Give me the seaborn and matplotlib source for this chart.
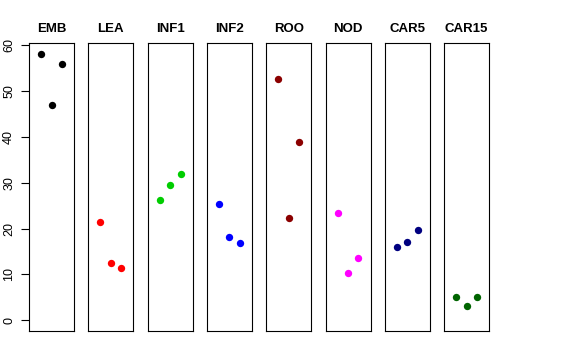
import numpy as np
import pandas as pd
import matplotlib
matplotlib.use("Agg")
import matplotlib.pyplot as plt
import seaborn as sns

# tissues and their values (3 replicates each)
tissues = ["EMB", "LEA", "INF1", "INF2", "ROO", "NOD", "CAR5", "CAR15"]
colors = ["#000000", "#FF0000", "#00CD00", "#0000FF", "#8B0000", "#FF00FF", "#000080", "#006400"]
replicate = [1, 2, 3]
values = [
    [58.1, 46.9, 56.0],
    [21.5, 12.6, 11.5],
    [26.2, 29.5, 32.0],
    [25.4, 18.1, 16.8],
    [52.7, 22.3, 39.0],
    [23.4, 10.4, 13.5],
    [16.0, 17.1, 19.7],
    [5.1, 3.1, 5.1],
]

rows = []
for t, vals in zip(tissues, values):
    for r, v in zip(replicate, vals):
        rows.append({"tissue": t, "rep": r, "value": v})
df = pd.DataFrame(rows)

sns.set_style("white")
plt.rcParams["font.family"] = ["Liberation Sans", "DejaVu Sans"]
plt.rcParams["text.color"] = "black"
plt.rcParams["ytick.color"] = "black"
plt.rcParams["axes.labelcolor"] = "black"

fig = plt.figure(figsize=(5.76, 3.6), dpi=100)

# R-like axis ranges: data range padded by 4%
ymax = df["value"].max()
ypad = 0.04 * ymax
xpad = 0.04 * 4

W, H = 576, 360
left0, step, pw = 29, 59.3, 45
top, bottom = 43.3, 331

for i, (t, c) in enumerate(zip(tissues, colors)):
    x0 = left0 + i * step
    ax = fig.add_axes([x0 / W, (H - bottom) / H, pw / W, (bottom - top) / H])
    sub = df[df["tissue"] == t]
    sns.scatterplot(data=sub, x="rep", y="value", color=c, s=28, linewidth=0, ax=ax)
    ax.set_xlim(0 - xpad, 4 + xpad)
    ax.set_ylim(0 - ypad, ymax + ypad)
    ax.set_xticks([])
    ax.set_xlabel("")
    ax.set_ylabel("")
    ax.set_title(t, fontsize=9.5, fontweight="bold", pad=8, color="black")
    for s in ax.spines.values():
        s.set_color("black")
        s.set_linewidth(0.8)
    if i == 0:
        ax.set_yticks(np.arange(0, 61, 10))
        ax.tick_params(axis="y", left=True, length=6, width=0.8, labelsize=9,
                       pad=4, colors="black")
        for lab in ax.get_yticklabels():
            lab.set_rotation(90)
            lab.set_va("center")
    else:
        ax.set_yticks([])

fig.savefig("out.png", dpi=100)
